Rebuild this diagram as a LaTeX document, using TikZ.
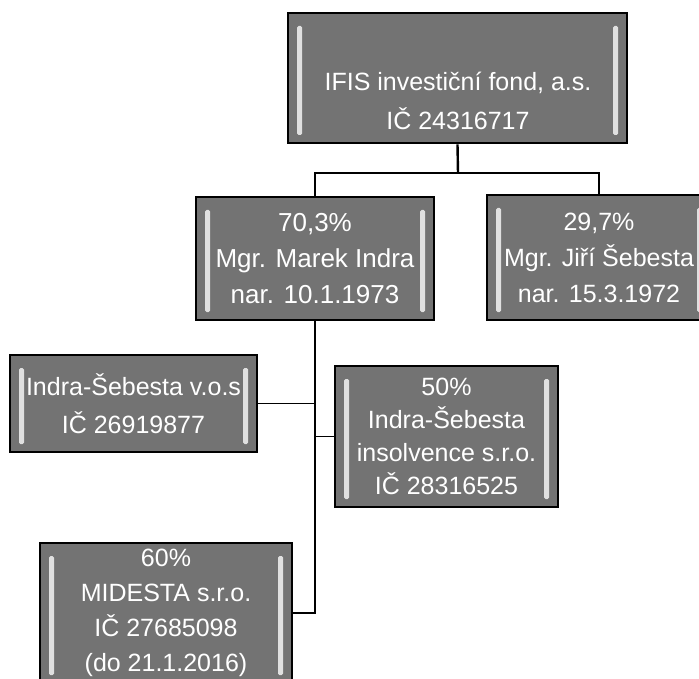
\documentclass[tikz,border=0pt]{standalone}
\usepackage{fontspec}
\setmainfont{Liberation Sans}
\begin{document}
\begin{tikzpicture}[x=1pt,y=-1pt,
  orgbox/.style={draw=black, line width=2.6pt, fill=black!55, text=white,
    align=center, inner sep=0pt, font=\fontsize{25}{35}\selectfont,
    path picture={
      \fill[white!88!black, rounded corners=1.5pt]
        ([xshift=9pt,yshift=-13pt]path picture bounding box.north west) rectangle
        ([xshift=14pt,yshift=8pt]path picture bounding box.south west);
      \fill[white!88!black, rounded corners=1.5pt]
        ([xshift=-9pt,yshift=-13pt]path picture bounding box.north east) rectangle
        ([xshift=-14pt,yshift=8pt]path picture bounding box.south east);
    }},
  boxtext/.style={text=white, align=center, inner sep=0pt},
  conn/.style={draw=black, line width=1.5pt},
  stem/.style={draw=black, line width=2.4pt}
]
\path[use as bounding box] (0,0) rectangle (699,679);
\clip (0,0) rectangle (699,679);
\fill[white] (0,0) rectangle (699,679);

% boxes
\node[orgbox, minimum width=339pt, minimum height=130pt] (top) at (457.5,78) {};
\node[boxtext, font=\fontsize{25}{39}\selectfont] (ttop) at (458,101) {IFIS investiční fond, a.s.\\IČ 24316717};

\node[orgbox, minimum width=238pt, minimum height=123pt, font=\fontsize{26}{36}\selectfont] (b2) at (315,258.5)
  {70,3\%\\Mgr. Marek Indra\\nar. 10.1.1973};
\node[orgbox, minimum width=224pt, minimum height=125pt, font=\fontsize{25}{36}\selectfont] (b3) at (599,257.5)
  {29,7\%\\Mgr. Jiří Šebesta\\nar. 15.3.1972};
\node[orgbox, minimum width=247pt, minimum height=97pt, font=\fontsize{25}{38}\selectfont] (b4) at (133.5,403.5)
  {Indra-Šebesta v.o.s\\IČ 26919877};
\node[orgbox, minimum width=223pt, minimum height=141pt, font=\fontsize{25}{33}\selectfont] (b5) at (446.5,436.5)
  {50\%\\Indra-Šebesta\\insolvence s.r.o.\\IČ 28316525};
\node[orgbox, minimum width=252pt, minimum height=140pt, font=\fontsize{25}{35}\selectfont] (b6) at (166,613)
  {60\%\\MIDESTA s.r.o.\\IČ 27685098\\(do 21.1.2016)};

% connectors
\coordinate (j1) at (458,173);
\draw[stem] (top.south) -- (j1);
\draw[conn] (b2.north) -- (b2.north |- j1) -- (b3.north |- j1) -- (b3.north);
\draw[conn] (b2.south) -- (b2.south |- b6.east) -- (b6.east);
\draw[conn] (b4.east) -- (b4.east -| b2.south);
\draw[conn] (b5.west) -- (b5.west -| b2.south);
\end{tikzpicture}
\end{document}
